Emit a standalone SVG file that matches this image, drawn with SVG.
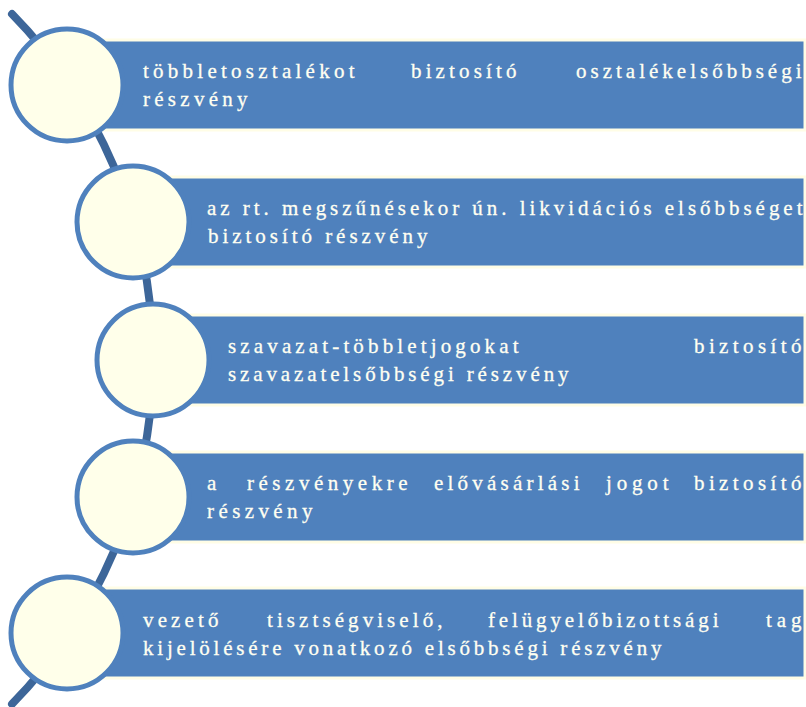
<svg xmlns="http://www.w3.org/2000/svg" width="806" height="707" viewBox="0 0 806 707">
<style>
.bar{fill:#4F81BD;stroke:#FFFDE6;stroke-width:3}
.dot{fill:#FFFFEA;stroke:#4F81BD;stroke-width:5}
.t{font-family:"Liberation Serif","Times New Roman",serif;font-size:21px;fill:#FFFFF2;stroke:#FFFFF2;stroke-width:0.3;letter-spacing:2.5px}
.arc{fill:none;stroke:#3D6699;stroke-width:8;stroke-linecap:round}
</style>
<rect width="806" height="707" fill="#FFFFFF"/>
<g id="connectors">
<path class="arc" d="M 12 14 A 492.6 492.6 0 0 1 12 704"/>
</g>
<g id="node1">
<rect class="bar" x="67" y="40" width="738" height="90"/>
<circle class="dot" cx="67" cy="85" r="56"/>
<text class="t" x="143" y="78" textLength="214" lengthAdjust="spacing">többletosztalékot</text>
<text class="t" x="411" y="78" textLength="108" lengthAdjust="spacing">biztosító</text>
<text class="t" x="576" y="78" textLength="228" lengthAdjust="spacing">osztalékelsőbbségi</text>
<text class="t" x="143" y="106" textLength="107" lengthAdjust="spacing">részvény</text>
</g>
<g id="node2">
<rect class="bar" x="133" y="177" width="672" height="90"/>
<circle class="dot" cx="133" cy="222" r="56"/>
<text class="t" x="207" y="215" textLength="598" lengthAdjust="spacing">az rt. megszűnésekor ún. likvidációs elsőbbséget</text>
<text class="t" x="208" y="243" textLength="222" lengthAdjust="spacing">biztosító részvény</text>
</g>
<g id="node3">
<rect class="bar" x="153" y="315" width="652" height="90"/>
<circle class="dot" cx="153" cy="360" r="56"/>
<text class="t" x="228" y="353" textLength="293" lengthAdjust="spacing">szavazat-többletjogokat</text>
<text class="t" x="694" y="353" textLength="110" lengthAdjust="spacing">biztosító</text>
<text class="t" x="228" y="381" textLength="343" lengthAdjust="spacing">szavazatelsőbbségi részvény</text>
</g>
<g id="node4">
<rect class="bar" x="133" y="452" width="672" height="90"/>
<circle class="dot" cx="133" cy="497" r="56"/>
<text class="t" x="207" y="490">a</text>
<text class="t" x="247" y="490" textLength="163" lengthAdjust="spacing">részvényekre</text>
<text class="t" x="434" y="490" textLength="148" lengthAdjust="spacing">elővásárlási</text>
<text class="t" x="606" y="490" textLength="65" lengthAdjust="spacing">jogot</text>
<text class="t" x="694" y="490" textLength="110" lengthAdjust="spacing">biztosító</text>
<text class="t" x="207" y="518" textLength="108" lengthAdjust="spacing">részvény</text>
</g>
<g id="node5">
<rect class="bar" x="67" y="588" width="738" height="90"/>
<circle class="dot" cx="67" cy="633" r="56"/>
<text class="t" x="143" y="627" textLength="78" lengthAdjust="spacing">vezető</text>
<text class="t" x="267" y="627" textLength="178" lengthAdjust="spacing">tisztségviselő,</text>
<text class="t" x="488" y="627" textLength="233" lengthAdjust="spacing">felügyelőbizottsági</text>
<text class="t" x="766" y="627" textLength="38" lengthAdjust="spacing">tag</text>
<text class="t" x="143" y="655" textLength="521" lengthAdjust="spacing">kijelölésére vonatkozó elsőbbségi részvény</text>
</g>
</svg>
